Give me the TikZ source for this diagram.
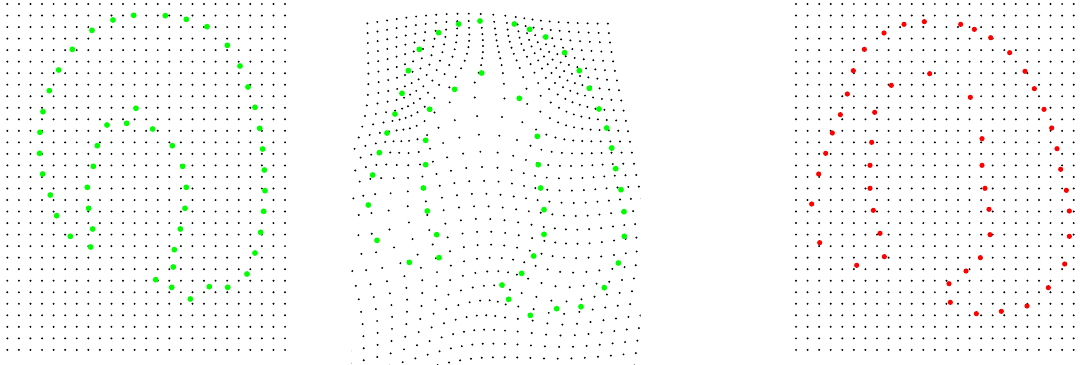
\documentclass[tikz,border=0pt]{standalone}
\usepackage{xcolor}
\definecolor{ptgreen}{RGB}{0,255,0}
\definecolor{ptred}{RGB}{255,0,0}
\tikzset{
  griddot/.style={fill=black},
  gdot/.style={fill=ptgreen},
  rdot/.style={fill=ptred}
}
\newcommand\MidDot[2]{\fill[griddot] (#1,#2) circle[radius=0.55pt];}

\ExplSyntaxOn
\int_new:N \g_tps_n_int
\int_new:N \l_tps_N_int
\int_new:N \l_tps_C_int
\int_new:N \l_tps_p_int
\fp_new:N \l_tps_max_fp
\fp_new:N \l_tps_tmp_fp
\fp_new:N \l_tps_piv_fp
\fp_new:N \l_tps_f_fp
\fp_new:N \l_tps_sx_fp
\fp_new:N \l_tps_sy_fp
\fp_new:N \l_tps_px_fp
\fp_new:N \l_tps_py_fp
\fp_new:N \l_tps_d_fp
\fp_new:N \l_tps_u_fp
\tl_new:N \l_tps_i_tl
\tl_new:N \l_tps_j_tl
\tl_new:N \l_tps_k_tl
\tl_new:N \l_tps_gi_tl
\tl_new:N \l_tps_gj_tl
\tl_new:N \l_tps_x_tl
\tl_new:N \l_tps_y_tl
\fparray_new:Nn \g_tps_sx_fparray {64}
\fparray_new:Nn \g_tps_sy_fparray {64}
\fparray_new:Nn \g_tps_tx_fparray {64}
\fparray_new:Nn \g_tps_ty_fparray {64}
\fparray_new:Nn \g_tps_wx_fparray {64}
\fparray_new:Nn \g_tps_wy_fparray {64}
\fparray_new:Nn \g_tps_A_fparray {4400}

\cs_new:Npn \__tps_A:nn #1#2
 { \fparray_item:Nn \g_tps_A_fparray { ( #1 - 1 ) * \l_tps_C_int + ( #2 ) } }
\cs_new_protected:Npn \__tps_Aset:nnn #1#2#3
 { \fparray_gset:Nnn \g_tps_A_fparray { ( #1 - 1 ) * \l_tps_C_int + ( #2 ) } { #3 } }

\NewDocumentCommand \TpsPair { m m m m }
 {
  \int_gincr:N \g_tps_n_int
  \fparray_gset:Nnn \g_tps_sx_fparray { \g_tps_n_int } { (#1) / 100 }
  \fparray_gset:Nnn \g_tps_sy_fparray { \g_tps_n_int } { (#2) / 100 }
  \fparray_gset:Nnn \g_tps_tx_fparray { \g_tps_n_int } { (#3) / 100 }
  \fparray_gset:Nnn \g_tps_ty_fparray { \g_tps_n_int } { (#4) / 100 }
 }

\NewDocumentCommand \TpsSolve { }
 {
  \int_set:Nn \l_tps_N_int { \g_tps_n_int + 3 }
  \int_set:Nn \l_tps_C_int { \g_tps_n_int + 5 }
  \int_step_variable:nNn { \g_tps_n_int } \l_tps_i_tl
   {
    \int_step_variable:nNn { \g_tps_n_int } \l_tps_j_tl
     {
      \fp_set:Nn \l_tps_d_fp
       {
        ( \fparray_item:Nn \g_tps_sx_fparray { \l_tps_i_tl }
          - \fparray_item:Nn \g_tps_sx_fparray { \l_tps_j_tl } ) ^ 2
        + ( \fparray_item:Nn \g_tps_sy_fparray { \l_tps_i_tl }
          - \fparray_item:Nn \g_tps_sy_fparray { \l_tps_j_tl } ) ^ 2
       }
      \__tps_Aset:nnn { \l_tps_i_tl } { \l_tps_j_tl }
       { \l_tps_d_fp * ln ( \l_tps_d_fp + 1e-20 ) }
     }
    \__tps_Aset:nnn { \l_tps_i_tl } { \g_tps_n_int + 1 } { 1 }
    \__tps_Aset:nnn { \l_tps_i_tl } { \g_tps_n_int + 2 }
     { \fparray_item:Nn \g_tps_sx_fparray { \l_tps_i_tl } }
    \__tps_Aset:nnn { \l_tps_i_tl } { \g_tps_n_int + 3 }
     { \fparray_item:Nn \g_tps_sy_fparray { \l_tps_i_tl } }
    \__tps_Aset:nnn { \l_tps_i_tl } { \g_tps_n_int + 4 }
     { \fparray_item:Nn \g_tps_tx_fparray { \l_tps_i_tl } }
    \__tps_Aset:nnn { \l_tps_i_tl } { \g_tps_n_int + 5 }
     { \fparray_item:Nn \g_tps_ty_fparray { \l_tps_i_tl } }
    \__tps_Aset:nnn { \g_tps_n_int + 1 } { \l_tps_i_tl } { 1 }
    \__tps_Aset:nnn { \g_tps_n_int + 2 } { \l_tps_i_tl }
     { \fparray_item:Nn \g_tps_sx_fparray { \l_tps_i_tl } }
    \__tps_Aset:nnn { \g_tps_n_int + 3 } { \l_tps_i_tl }
     { \fparray_item:Nn \g_tps_sy_fparray { \l_tps_i_tl } }
   }
  % Gaussian elimination with partial pivoting
  \int_step_variable:nNn { \l_tps_N_int } \l_tps_k_tl
   {
    \int_set:Nn \l_tps_p_int { \l_tps_k_tl }
    \fp_set:Nn \l_tps_max_fp { abs ( \__tps_A:nn { \l_tps_k_tl } { \l_tps_k_tl } ) }
    \int_step_variable:nnNn { \l_tps_k_tl + 1 } { \l_tps_N_int } \l_tps_i_tl
     {
      \fp_set:Nn \l_tps_tmp_fp { abs ( \__tps_A:nn { \l_tps_i_tl } { \l_tps_k_tl } ) }
      \fp_compare:nNnT { \l_tps_tmp_fp } > { \l_tps_max_fp }
       {
        \fp_set_eq:NN \l_tps_max_fp \l_tps_tmp_fp
        \int_set:Nn \l_tps_p_int { \l_tps_i_tl }
       }
     }
    \int_compare:nNnF { \l_tps_p_int } = { \l_tps_k_tl }
     {
      \int_step_variable:nnNn { \l_tps_k_tl } { \l_tps_C_int } \l_tps_j_tl
       {
        \fp_set:Nn \l_tps_tmp_fp { \__tps_A:nn { \l_tps_k_tl } { \l_tps_j_tl } }
        \__tps_Aset:nnn { \l_tps_k_tl } { \l_tps_j_tl }
         { \__tps_A:nn { \l_tps_p_int } { \l_tps_j_tl } }
        \__tps_Aset:nnn { \l_tps_p_int } { \l_tps_j_tl } { \l_tps_tmp_fp }
       }
     }
    \fp_set:Nn \l_tps_piv_fp { \__tps_A:nn { \l_tps_k_tl } { \l_tps_k_tl } }
    \int_step_variable:nnNn { \l_tps_k_tl + 1 } { \l_tps_N_int } \l_tps_i_tl
     {
      \fp_set:Nn \l_tps_f_fp
       { \__tps_A:nn { \l_tps_i_tl } { \l_tps_k_tl } / \l_tps_piv_fp }
      \fp_compare:nNnF { \l_tps_f_fp } = { 0 }
       {
        \int_step_variable:nnNn { \l_tps_k_tl + 1 } { \l_tps_C_int } \l_tps_j_tl
         {
          \__tps_Aset:nnn { \l_tps_i_tl } { \l_tps_j_tl }
           {
            \__tps_A:nn { \l_tps_i_tl } { \l_tps_j_tl }
            - \l_tps_f_fp * \__tps_A:nn { \l_tps_k_tl } { \l_tps_j_tl }
           }
         }
       }
     }
   }
  % back substitution
  \int_step_variable:nnnNn { \l_tps_N_int } { -1 } { 1 } \l_tps_i_tl
   {
    \fp_set:Nn \l_tps_sx_fp { \__tps_A:nn { \l_tps_i_tl } { \l_tps_N_int + 1 } }
    \fp_set:Nn \l_tps_sy_fp { \__tps_A:nn { \l_tps_i_tl } { \l_tps_N_int + 2 } }
    \int_step_variable:nnNn { \l_tps_i_tl + 1 } { \l_tps_N_int } \l_tps_j_tl
     {
      \fp_sub:Nn \l_tps_sx_fp
       { \__tps_A:nn { \l_tps_i_tl } { \l_tps_j_tl }
         * \fparray_item:Nn \g_tps_wx_fparray { \l_tps_j_tl } }
      \fp_sub:Nn \l_tps_sy_fp
       { \__tps_A:nn { \l_tps_i_tl } { \l_tps_j_tl }
         * \fparray_item:Nn \g_tps_wy_fparray { \l_tps_j_tl } }
     }
    \fparray_gset:Nnn \g_tps_wx_fparray { \l_tps_i_tl }
     { \l_tps_sx_fp / \__tps_A:nn { \l_tps_i_tl } { \l_tps_i_tl } }
    \fparray_gset:Nnn \g_tps_wy_fparray { \l_tps_i_tl }
     { \l_tps_sy_fp / \__tps_A:nn { \l_tps_i_tl } { \l_tps_i_tl } }
   }
 }

\cs_new_protected:Npn \__tps_eval:nn #1#2
 {
  \fp_set:Nn \l_tps_px_fp { #1 }
  \fp_set:Nn \l_tps_py_fp { #2 }
  \fp_set:Nn \l_tps_sx_fp
   {
    \fparray_item:Nn \g_tps_wx_fparray { \g_tps_n_int + 1 }
    + \fparray_item:Nn \g_tps_wx_fparray { \g_tps_n_int + 2 } * \l_tps_px_fp
    + \fparray_item:Nn \g_tps_wx_fparray { \g_tps_n_int + 3 } * \l_tps_py_fp
   }
  \fp_set:Nn \l_tps_sy_fp
   {
    \fparray_item:Nn \g_tps_wy_fparray { \g_tps_n_int + 1 }
    + \fparray_item:Nn \g_tps_wy_fparray { \g_tps_n_int + 2 } * \l_tps_px_fp
    + \fparray_item:Nn \g_tps_wy_fparray { \g_tps_n_int + 3 } * \l_tps_py_fp
   }
  \int_step_variable:nNn { \g_tps_n_int } \l_tps_k_tl
   {
    \fp_set:Nn \l_tps_d_fp
     {
      ( \l_tps_px_fp - \fparray_item:Nn \g_tps_sx_fparray { \l_tps_k_tl } ) ^ 2
      + ( \l_tps_py_fp - \fparray_item:Nn \g_tps_sy_fparray { \l_tps_k_tl } ) ^ 2
     }
    \fp_set:Nn \l_tps_u_fp { \l_tps_d_fp * ln ( \l_tps_d_fp + 1e-20 ) }
    \fp_add:Nn \l_tps_sx_fp
     { \fparray_item:Nn \g_tps_wx_fparray { \l_tps_k_tl } * \l_tps_u_fp }
    \fp_add:Nn \l_tps_sy_fp
     { \fparray_item:Nn \g_tps_wy_fparray { \l_tps_k_tl } * \l_tps_u_fp }
   }
 }

\NewDocumentCommand \TpsGrid { }
 {
  \int_step_variable:nnNn { 0 } { 24 } \l_tps_gi_tl
   {
    \int_step_variable:nnNn { 0 } { 30 } \l_tps_gj_tl
     {
      \__tps_eval:nn { ( 22 + 34.71 * \l_tps_gi_tl ) / 100 }
                     { ( 12 + 34.57 * \l_tps_gj_tl ) / 100 }
      \tl_set:Nx \l_tps_x_tl { \fp_eval:n { round ( 345 + \l_tps_sx_fp * 100 / 3 , 2 ) } }
      \tl_set:Nx \l_tps_y_tl { \fp_eval:n { round ( \l_tps_sy_fp * 100 / 3 , 2 ) } }
      \MidDot { \l_tps_x_tl } { \l_tps_y_tl }
     }
   }
 }
\ExplSyntaxOff

% correspondences: left (zoom units) -> middle (zoom units)
\TpsPair{401}{46}{405}{63}
\TpsPair{496}{47}{508}{72}
\TpsPair{339}{60}{341}{72}
\TpsPair{559}{58}{554}{88}
\TpsPair{276}{91}{281}{98}
\TpsPair{621}{80}{602}{111}
\TpsPair{217}{148}{223}{148}
\TpsPair{682}{136}{659}{158}
\TpsPair{176}{210}{190}{212}
\TpsPair{720}{198}{703}{212}
\TpsPair{148}{272}{171}{280}
\TpsPair{744}{261}{733}{265}
\TpsPair{129}{335}{150}{342}
\TpsPair{765}{322}{762}{327}
\TpsPair{120}{397}{126}{399}
\TpsPair{779}{385}{785}{384}
\TpsPair{119}{460}{103}{458}
\TpsPair{788}{447}{800}{444}
\TpsPair{128}{522}{83}{525}
\TpsPair{793}{510}{812}{506}
\TpsPair{151}{585}{70}{615}
\TpsPair{795}{572}{828}{569}
\TpsPair{170}{647}{96}{721}
\TpsPair{791}{634}{837}{635}
\TpsPair{211}{709}{193}{787}
\TpsPair{782}{697}{838}{709}
\TpsPair{765}{759}{820}{789}
\TpsPair{741}{822}{778}{863}
\TpsPair{683}{862}{708}{920}
\TpsPair{628}{860}{635}{926}
\TpsPair{571}{897}{556}{946}
\TpsPair{515}{862}{491}{898}
\TpsPair{467}{839}{471}{855}
\TpsPair{520}{801}{530}{820}
\TpsPair{523}{749}{566}{768}
\TpsPair{541}{687}{597}{703}
\TpsPair{555}{625}{597}{629}
\TpsPair{559}{562}{587}{564}
\TpsPair{548}{499}{580}{494}
\TpsPair{517}{437}{577}{409}
\TpsPair{458}{387}{523}{295}
\TpsPair{408}{325}{410}{219}
\TpsPair{380}{370}{329}{268}
\TpsPair{321}{375}{254}{328}
\TpsPair{292}{437}{242}{421}
\TpsPair{280}{499}{242}{494}
\TpsPair{262}{562}{235}{564}
\TpsPair{266}{625}{247}{633}
\TpsPair{278}{687}{275}{704}
\TpsPair{272}{741}{282}{773}

\begin{document}
\begin{tikzpicture}[x=0.5pt,y=-0.5pt]
\useasboundingbox (0,0) rectangle (1080,364);
\fill[white] (0,0) rectangle (1080,364);
% left and right regular grids
\foreach \i in {0,...,24}{
  \foreach \j in {0,...,30}{
    \fill[griddot] (7.33+11.57*\i, 4+11.53*\j) circle[radius=0.55pt];
    \fill[griddot] (796+11.57*\i, 4+11.53*\j) circle[radius=0.55pt];
  }
}
% warped grid (thin-plate spline through the point correspondences),
% clipped to the middle panel's plot area
\TpsSolve
\begin{scope}
\clip (351,0) rectangle (640.5,364);
\TpsGrid
\end{scope}
% left shape points
\foreach \x/\y in {401/46, 496/47, 339/60, 559/58, 276/91, 621/80, 217/148, 682/136,
  176/210, 720/198, 148/272, 744/261, 129/335, 765/322, 408/325, 321/375, 380/370,
  458/387, 120/397, 779/385, 292/437, 517/437, 119/460, 788/447, 280/499, 548/499,
  128/522, 793/510, 262/562, 559/562, 151/585, 795/572, 266/625, 555/625, 170/647,
  791/634, 278/687, 541/687, 211/709, 782/697, 272/741, 523/749, 765/759, 520/801,
  741/822, 467/839, 515/862, 628/860, 683/862, 571/897}
  \fill[gdot] (\x/3, \y/3) circle[radius=1.45pt];
% warped shape points
\foreach \x/\y in {405/63, 341/72, 508/72, 554/88, 281/98, 602/111, 223/148, 659/158,
  190/212, 410/219, 703/212, 329/268, 733/265, 171/280, 523/295, 254/328, 762/327,
  150/342, 785/384, 126/399, 577/409, 242/421, 103/458, 800/444, 242/494, 580/494,
  83/525, 812/506, 235/564, 587/564, 828/569, 70/615, 247/633, 597/629, 837/635,
  275/704, 597/703, 838/709, 96/721, 282/773, 566/768, 193/787, 820/789, 530/820,
  471/855, 778/863, 491/898, 708/920, 556/946, 635/926}
  \fill[gdot] (345+\x/3, \y/3) circle[radius=1.45pt];
% target shape points
\foreach \x/\y in {403/65, 342/73, 512/73, 553/88, 282/99, 602/113, 223/148, 659/158,
  190/212, 419/221, 705/214, 304/256, 733/266, 172/282, 541/292, 254/337, 762/328,
  151/344, 785/384, 127/399, 576/416, 245/427, 107/460, 801/446, 240/496, 576/496,
  86/522, 812/508, 240/565, 585/565, 829/571, 65/612, 250/631, 597/628, 838/633,
  270/700, 600/704, 838/709, 89/728, 283/770, 571/773, 200/796, 824/792, 528/813,
  477/851, 775/863, 481/907, 711/918, 559/941, 634/934}
  \fill[rdot] (790+\x/3, \y/3) circle[radius=1.3pt];
\end{tikzpicture}
\end{document}
